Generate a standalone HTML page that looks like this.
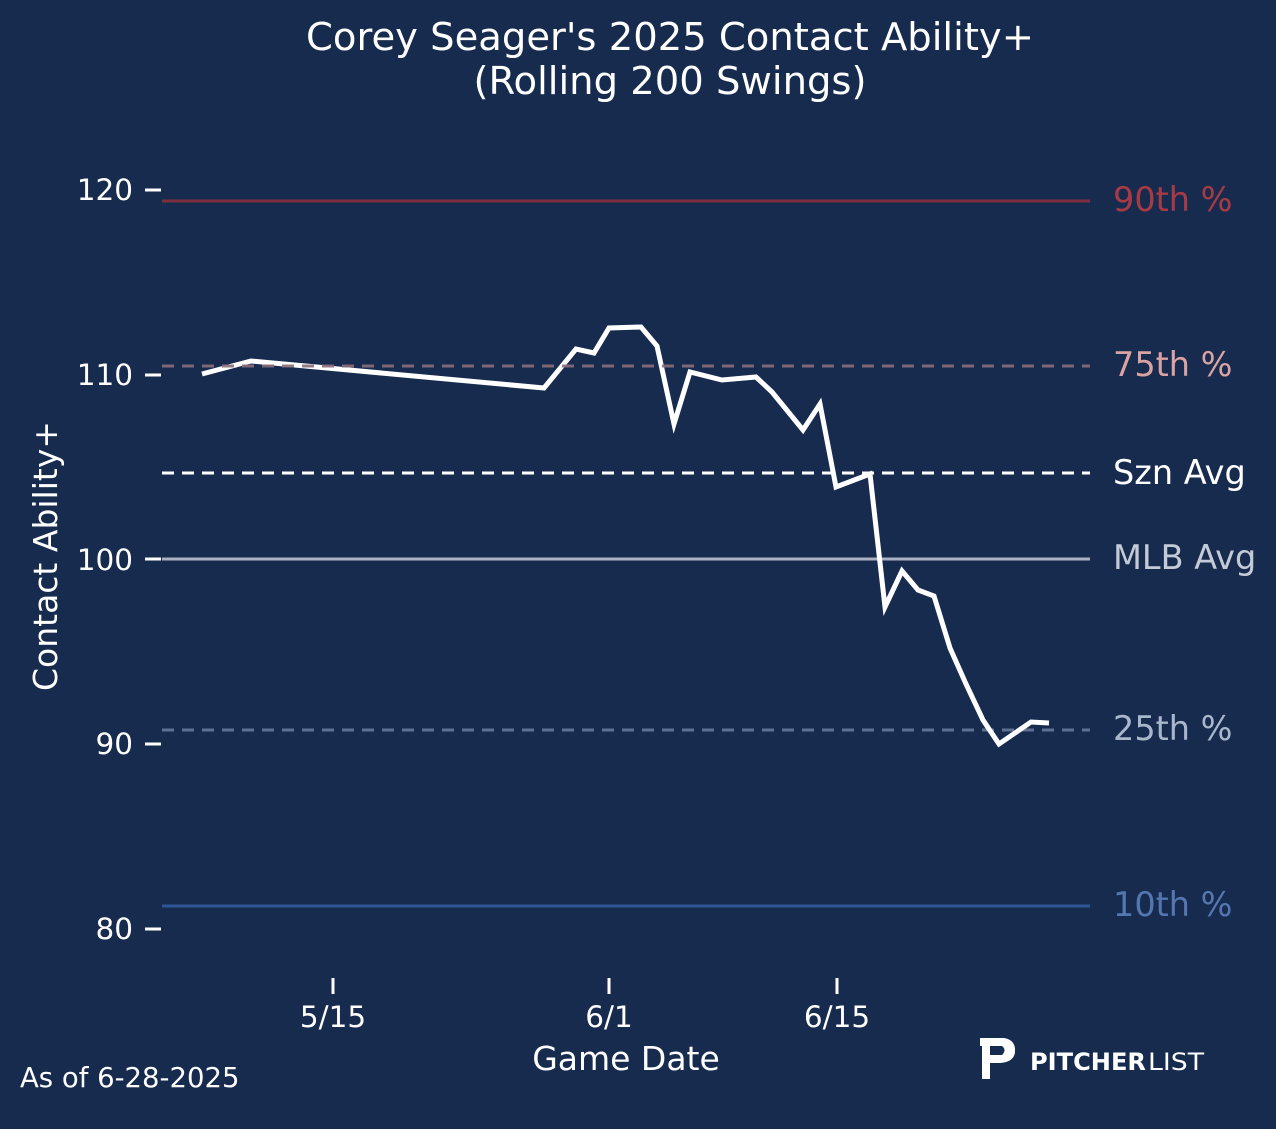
<!DOCTYPE html>
<html><head><meta charset="utf-8"><style>
html,body{margin:0;padding:0;background:#172b4f;}
svg{display:block;font-family:"Liberation Sans","DejaVu Sans",sans-serif;}
</style></head><body>
<svg width="1276" height="1129" viewBox="0 0 1276 1129" xmlns="http://www.w3.org/2000/svg">
<rect width="1276" height="1129" fill="#172b4f"/>
<text x="670" y="50" fill="#fff" font-size="38.5" text-anchor="middle" font-family="DejaVu Sans,sans-serif">Corey Seager's 2025 Contact Ability+</text>
<text x="670" y="94" fill="#fff" font-size="38.5" text-anchor="middle" font-family="DejaVu Sans,sans-serif">(Rolling 200 Swings)</text>
<g font-family="DejaVu Sans,sans-serif" font-size="29.5" fill="#fff" text-anchor="end">
<text x="133" y="200">120</text><text x="133" y="385">110</text><text x="133" y="570">100</text><text x="133" y="754">90</text><text x="133" y="939">80</text>
</g>
<g stroke="#fff" stroke-width="3">
<line x1="145" y1="190" x2="161" y2="190"/><line x1="145" y1="375" x2="161" y2="375"/><line x1="145" y1="559" x2="161" y2="559"/><line x1="145" y1="744" x2="161" y2="744"/><line x1="145" y1="929" x2="161" y2="929"/>
<line x1="333" y1="978" x2="333" y2="994"/><line x1="609" y1="978" x2="609" y2="994"/><line x1="837" y1="978" x2="837" y2="994"/>
</g>
<g font-family="DejaVu Sans,sans-serif" font-size="29.5" fill="#fff" text-anchor="middle">
<text x="333" y="1027">5/15</text><text x="609" y="1027">6/1</text><text x="837" y="1027">6/15</text>
<text x="626" y="1070" font-size="33">Game Date</text>
<text transform="translate(57,556) rotate(-90)" font-size="33">Contact Ability+</text>
</g>
<text x="20" y="1087" fill="#fff" font-size="27.5" font-family="DejaVu Sans,sans-serif">As of 6-28-2025</text>
<line x1="162" y1="201" x2="1090" y2="201" stroke="#7e2f3e" stroke-width="3"/>
<line x1="162" y1="906" x2="1090" y2="906" stroke="#2f5597" stroke-width="3"/>
<line x1="162" y1="559" x2="1090" y2="559" stroke="#a9b1c2" stroke-width="3"/>
<line x1="162" y1="473" x2="1090" y2="473" stroke="#fff" stroke-width="3" stroke-dasharray="12,8"/>
<line x1="162" y1="730" x2="1090" y2="730" stroke="#5d7093" stroke-width="3" stroke-dasharray="12,8"/>
<polyline fill="none" stroke="#fff" stroke-width="5" stroke-linejoin="miter" points="202,374 251,361 544,388 576,349 594,353 609,328 641,327 657,346 674,424 690,372 722,380 756,377 772,392 803,430 820,404 836,487 870,474 885,607 902,571 918,590 934,596 950,648 966,684 983,720 999,744 1031,722 1049,723"/>
<line x1="162" y1="366" x2="1090" y2="366" stroke="#8a6d7a" stroke-width="3" stroke-dasharray="12,8" opacity="0.9"/>
<g font-family="DejaVu Sans,sans-serif" font-size="33.5">
<text x="1113" y="211" fill="#a83a45">90th %</text>
<text x="1113" y="376" fill="#d9a3a3">75th %</text>
<text x="1113" y="484" fill="#fff">Szn Avg</text>
<text x="1113" y="569" fill="#c5cbd6">MLB Avg</text>
<text x="1113" y="740" fill="#a9b7cc">25th %</text>
<text x="1113" y="916" fill="#5577b0">10th %</text>
</g>
<path d="M980,1038 L1004,1038 Q1016,1040 1015,1052 Q1014,1062 1000,1063 L990,1063 L990,1079 L982,1079 L982,1046 L980,1046 Z" fill="#fff"/>
<path d="M990,1046 L1002,1046 Q1007,1050 1002,1055 L990,1055 Z" fill="#172b4f"/>
<text x="1030" y="1070" fill="#fff" font-size="24" font-weight="bold" font-family="DejaVu Sans,sans-serif" textLength="116" lengthAdjust="spacingAndGlyphs">PITCHER</text>
<text x="1148" y="1070" fill="#fff" font-size="24" font-family="DejaVu Sans,sans-serif" textLength="56" lengthAdjust="spacingAndGlyphs">LIST</text>
</svg>
</body></html>
